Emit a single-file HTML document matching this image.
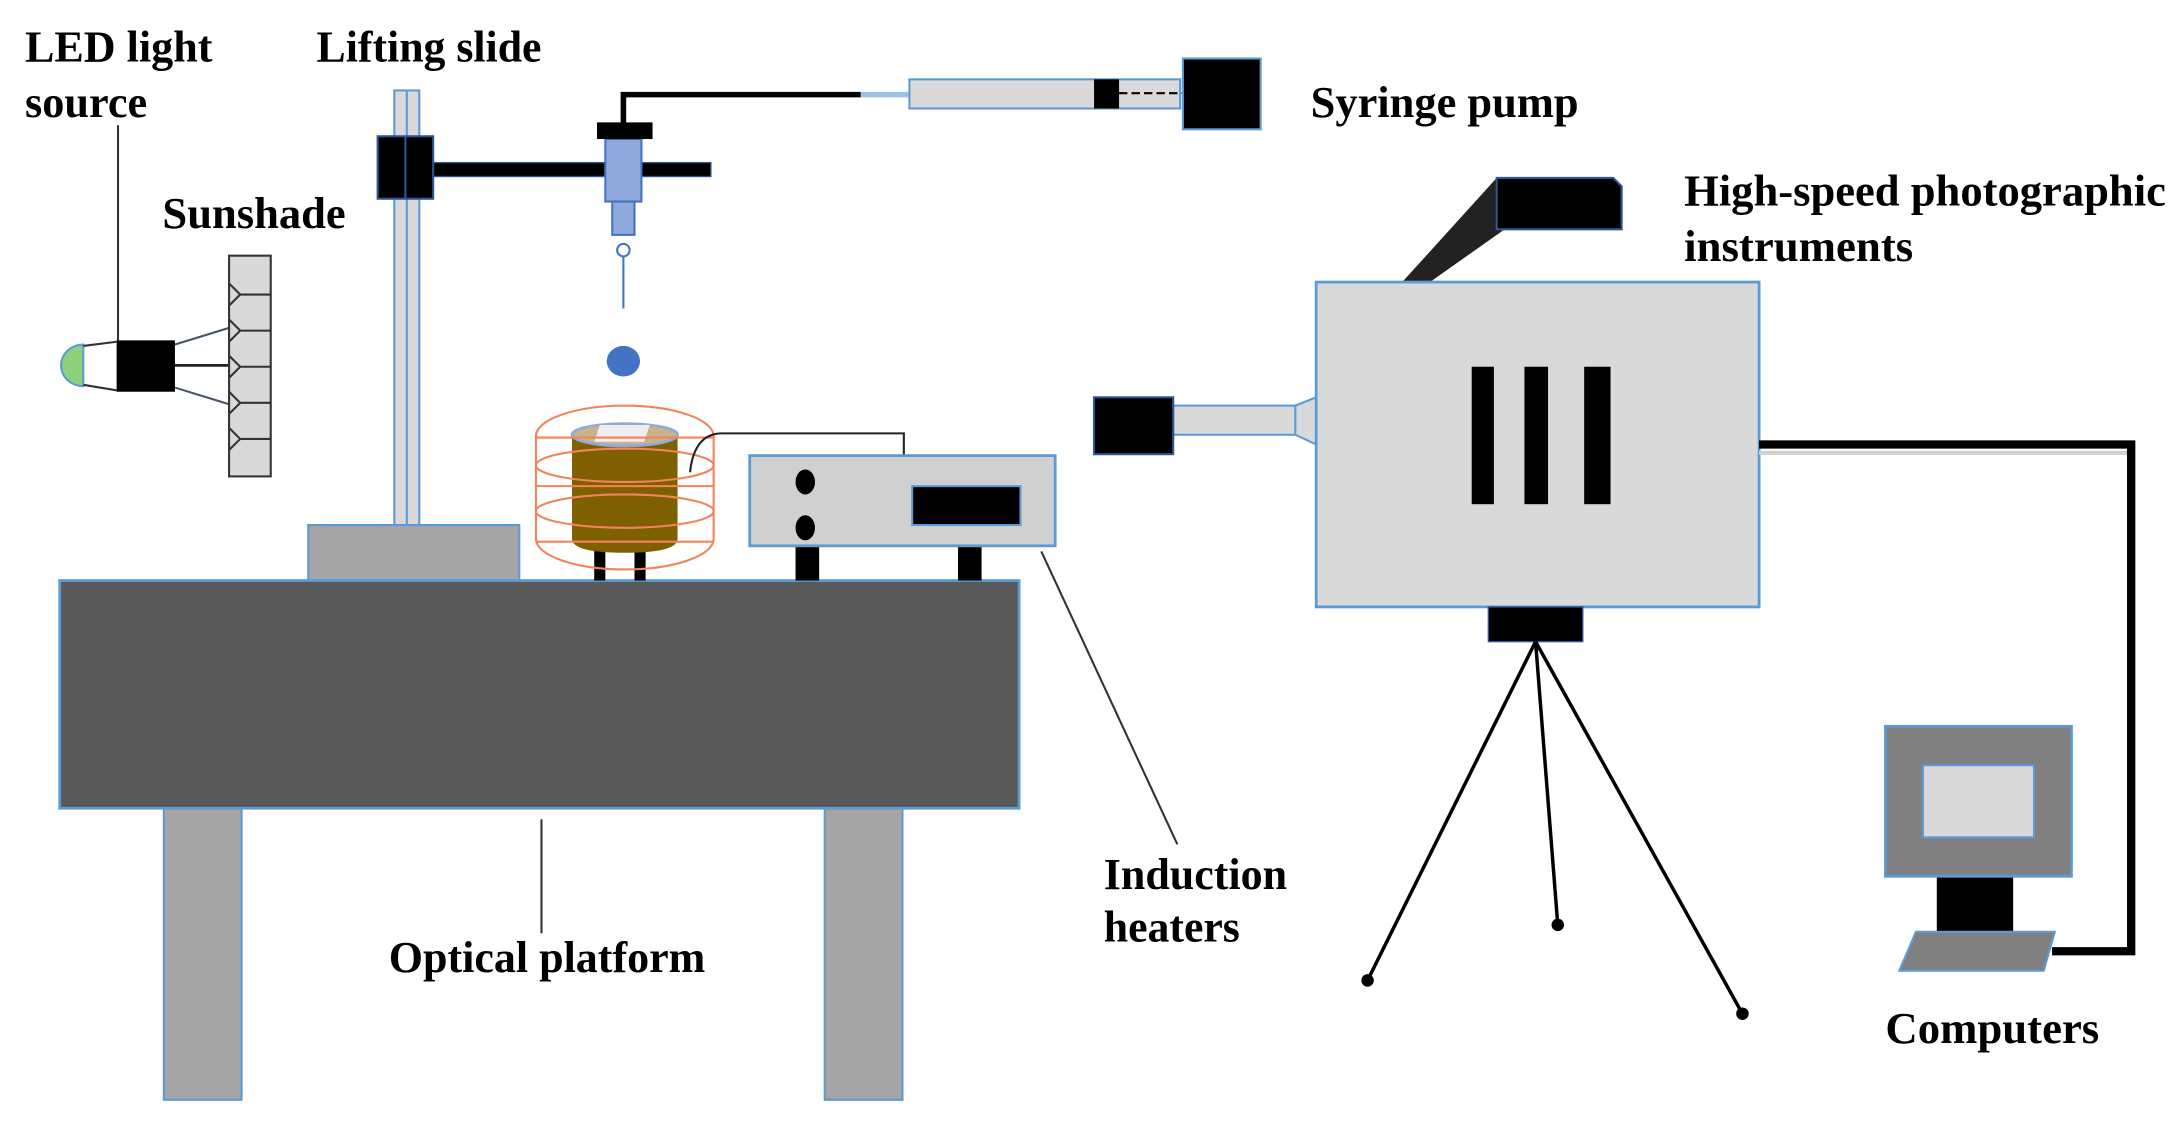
<!DOCTYPE html>
<html><head><meta charset="utf-8"><style>html,body{margin:0;padding:0;background:#fff}svg{display:block}text{font-family:"Liberation Serif",serif;font-weight:bold;font-size:32px;fill:#000}</style></head><body>
<svg width="2177" height="1125" viewBox="0 0 1568 810" xmlns="http://www.w3.org/2000/svg">
<rect width="1568" height="810" fill="#fff"/>
<!-- labels -->
<text x="18" y="44" textLength="135" lengthAdjust="spacingAndGlyphs">LED light</text><text x="18" y="84" textLength="88" lengthAdjust="spacingAndGlyphs">source</text>
<text x="228" y="44" textLength="162" lengthAdjust="spacingAndGlyphs">Lifting slide</text>
<text x="117" y="164" textLength="132" lengthAdjust="spacingAndGlyphs">Sunshade</text>
<text x="944" y="84" textLength="193" lengthAdjust="spacingAndGlyphs">Syringe pump</text>
<text x="1213" y="148" textLength="347" lengthAdjust="spacingAndGlyphs">High-speed photographic</text><text x="1213" y="188" textLength="165" lengthAdjust="spacingAndGlyphs">instruments</text>
<text x="280" y="700" textLength="228" lengthAdjust="spacingAndGlyphs">Optical platform</text>
<text x="795" y="640" textLength="132" lengthAdjust="spacingAndGlyphs">Induction</text><text x="795" y="678" textLength="98" lengthAdjust="spacingAndGlyphs">heaters</text>
<text x="1358" y="751" textLength="154" lengthAdjust="spacingAndGlyphs">Computers</text>
<!-- leader lines -->
<line x1="85" y1="90" x2="85" y2="245" stroke="#333" stroke-width="1.5"/>
<line x1="390" y1="590" x2="390" y2="672" stroke="#333" stroke-width="1.5"/>
<line x1="750" y1="397" x2="848" y2="608" stroke="#333" stroke-width="1.5"/>
<!-- LED -->
<path d="M60,248 A16,15 0 0 0 60,278 Z" fill="#8fd07a" stroke="#5b9bd5" stroke-width="1.5"/>
<line x1="60" y1="249" x2="84" y2="246" stroke="#333" stroke-width="1.5"/>
<line x1="60" y1="277" x2="84" y2="281" stroke="#333" stroke-width="1.5"/>
<rect x="84" y="245" width="42" height="37" fill="#000"/>
<line x1="126" y1="248" x2="165" y2="236" stroke="#44546a" stroke-width="1.5"/>
<line x1="126" y1="263" x2="165" y2="263" stroke="#222" stroke-width="2"/>
<line x1="126" y1="279" x2="165" y2="291" stroke="#44546a" stroke-width="1.5"/>
<!-- sunshade -->
<rect x="165" y="184" width="30" height="159" fill="#d9d9d9" stroke="#333" stroke-width="1.5"/>
<g fill="none" stroke="#333" stroke-width="1.5">
<path d="M165,204 L173,212 L195,212 M165,220 L173,212"/>
<path d="M165,230 L173,238 L195,238 M165,246 L173,238"/>
<path d="M165,256 L173,264 L195,264 M165,272 L173,264"/>
<path d="M165,282 L173,290 L195,290 M165,298 L173,290"/>
<path d="M165,308 L173,316 L195,316 M165,324 L173,316"/>
</g>
<!-- lifting slide -->
<rect x="222" y="378" width="152" height="40" fill="#a5a5a5" stroke="#5b9bd5" stroke-width="1.5"/>
<rect x="284" y="65" width="18" height="313" fill="#d9d9d9" stroke="#5b9bd5" stroke-width="1.5"/>
<line x1="293" y1="65" x2="293" y2="378" stroke="#5b9bd5" stroke-width="1.5"/>
<rect x="312" y="117" width="200" height="10" fill="#000" stroke="#2f5597" stroke-width="1"/>
<rect x="272" y="98" width="40" height="45" fill="#000" stroke="#2f5597" stroke-width="1.5"/>
<line x1="292" y1="98" x2="292" y2="143" stroke="#2f5597" stroke-width="1.5"/>
<!-- syringe needle -->
<path d="M449,90 L449,68 L620,68" fill="none" stroke="#000" stroke-width="4"/>
<line x1="620" y1="68" x2="655" y2="68" stroke="#9dc3e6" stroke-width="4"/>
<rect x="436" y="100" width="26" height="45" fill="#8faadc" stroke="#4472c4" stroke-width="1.5"/>
<rect x="430" y="88" width="40" height="12" fill="#000"/>
<rect x="441" y="145" width="16" height="24" fill="#8faadc" stroke="#4472c4" stroke-width="1.5"/>
<circle cx="449" cy="180" r="4.5" fill="#fff" stroke="#4472c4" stroke-width="1.5"/>
<line x1="449" y1="185" x2="449" y2="222" stroke="#4472c4" stroke-width="1.5"/>
<ellipse cx="449" cy="260" rx="12" ry="11" fill="#4472c4"/>
<!-- syringe pump -->
<rect x="655" y="57" width="195" height="21" fill="#d9d9d9" stroke="#5b9bd5" stroke-width="1.5"/>
<rect x="788" y="57" width="18" height="21" fill="#000"/>
<line x1="806" y1="67" x2="852" y2="67" stroke="#000" stroke-width="1.5" stroke-dasharray="6,3"/>
<rect x="852" y="42" width="56" height="51" fill="#000" stroke="#5b9bd5" stroke-width="1.5"/>
<!-- table -->
<rect x="118" y="582" width="56" height="210" fill="#a5a5a5" stroke="#5b9bd5" stroke-width="1.5"/>
<rect x="594" y="582" width="56" height="210" fill="#a5a5a5" stroke="#5b9bd5" stroke-width="1.5"/>
<rect x="43" y="418" width="691" height="164" fill="#595959" stroke="#5b9bd5" stroke-width="2"/>
<!-- crucible -->
<rect x="428" y="392" width="8" height="26" fill="#000"/>
<rect x="457" y="392" width="8" height="26" fill="#000"/>
<path d="M412,313 L412,388 Q412,398 450,398 Q488,398 488,388 L488,313 Z" fill="#7f6000"/>
<ellipse cx="450" cy="313" rx="38" ry="8" fill="#c9b48a" stroke="#8faadc" stroke-width="2"/>
<path d="M432,306 L468,306 L464,318 L428,318 Z" fill="#eee"/>
<g fill="none" stroke="#f4825a" stroke-width="1.5">
<rect x="386" y="292" width="128" height="118" rx="64" ry="22"/>
<ellipse cx="450" cy="335" rx="64" ry="12"/>
<ellipse cx="450" cy="368" rx="64" ry="12"/>
<line x1="386" y1="315" x2="514" y2="315"/>
<line x1="386" y1="350" x2="514" y2="350"/>
<line x1="386" y1="390" x2="514" y2="390"/>
</g>
<!-- heater -->
<path d="M497,340 Q500,312 520,312 L651,312 L651,328" fill="none" stroke="#222" stroke-width="1.5"/>
<rect x="573" y="393" width="17" height="25" fill="#000"/>
<rect x="690" y="393" width="17" height="25" fill="#000"/>
<rect x="540" y="328" width="220" height="65" fill="#d0d0d0" stroke="#5b9bd5" stroke-width="2"/>
<ellipse cx="580" cy="347" rx="7" ry="9" fill="#000"/>
<ellipse cx="580" cy="380" rx="7" ry="9" fill="#000"/>
<rect x="657" y="350" width="78" height="28" fill="#000" stroke="#5b9bd5" stroke-width="1.5"/>
<!-- camera -->
<polygon points="1010,203 1030,203 1088,162 1088,130 1078,128" fill="#222"/>
<path d="M1078,128 L1162,128 L1168,134 L1168,165 L1078,165 Z" fill="#000" stroke="#2f5597" stroke-width="1.5"/>
<rect x="845" y="292" width="88" height="21" fill="#d9d9d9" stroke="#5b9bd5" stroke-width="1.5"/>
<polygon points="933,292 948,286 948,320 933,313" fill="#d9d9d9" stroke="#5b9bd5" stroke-width="1.5"/>
<rect x="788" y="286" width="57" height="41" fill="#000" stroke="#2f5597" stroke-width="1.5"/>
<rect x="948" y="203" width="319" height="234" fill="#d9d9d9" stroke="#5b9bd5" stroke-width="2"/>
<rect x="1060" y="264" width="16" height="99" fill="#000"/>
<rect x="1098" y="264" width="17" height="99" fill="#000"/>
<rect x="1141" y="264" width="19" height="99" fill="#000"/>
<rect x="1072" y="437" width="68" height="25" fill="#000" stroke="#2f5597" stroke-width="1"/>
<g stroke="#000" stroke-width="2.5"><line x1="1106" y1="462" x2="985" y2="706"/><line x1="1106" y1="462" x2="1122" y2="666"/><line x1="1106" y1="462" x2="1255" y2="730"/></g>
<circle cx="985" cy="706" r="4.5" fill="#000"/><circle cx="1122" cy="666" r="4.5" fill="#000"/><circle cx="1255" cy="730" r="4.5" fill="#000"/>
<!-- cable -->
<line x1="1267" y1="326" x2="1532" y2="326" stroke="#d0d0d0" stroke-width="3"/>
<path d="M1267,320 L1535,320 L1535,685 L1478,685" fill="none" stroke="#000" stroke-width="6"/>
<!-- computer -->
<rect x="1395" y="631" width="55" height="40" fill="#000"/>
<rect x="1358" y="523" width="134" height="108" fill="#808080" stroke="#5b9bd5" stroke-width="2"/>
<rect x="1385" y="551" width="80" height="52" fill="#d9d9d9" stroke="#5b9bd5" stroke-width="1.5"/>
<polygon points="1380,671 1480,671 1472,699 1368,699" fill="#808080" stroke="#5b9bd5" stroke-width="1.5"/>
</svg>
</body></html>
